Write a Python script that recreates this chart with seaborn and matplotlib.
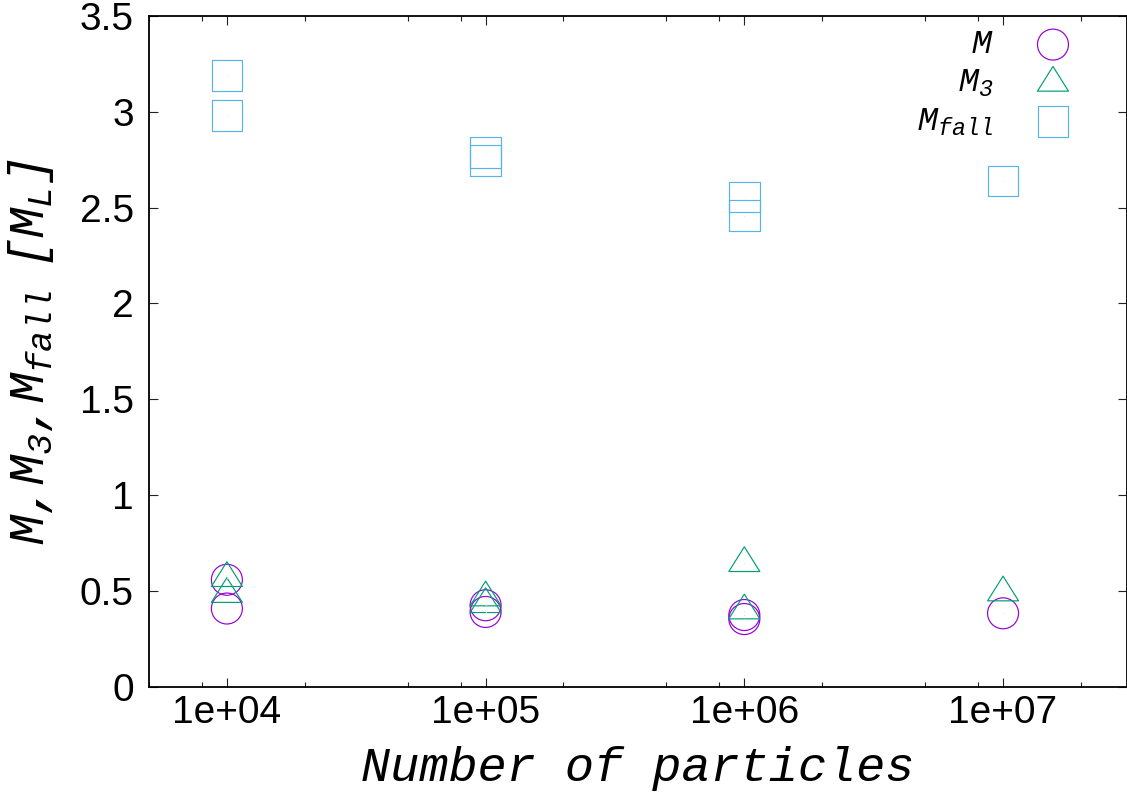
import numpy as np
import pandas as pd
import matplotlib
matplotlib.use("Agg")
import matplotlib.pyplot as plt
from matplotlib.path import Path
from matplotlib.ticker import LogLocator, FixedLocator, FuncFormatter, NullFormatter
import seaborn as sns

# Number of particles of each run
n_particles = [1e4, 1e4, 1e5, 1e5, 1e6, 1e6, 1e7]
# Masses in units of M_L
mass_M = [0.558, 0.408, 0.425, 0.390, 0.374, 0.353, 0.383]
mass_M3 = [0.566, 0.483, 0.465, 0.430, 0.644, 0.397, 0.491]
mass_Mfall = [3.189, 2.982, 2.787, 2.745, 2.556, 2.458, 2.638]

series_labels = [r"$M$", r"$M_3$", r"$M_{fall}$"]
y_ticks = [0, 0.5, 1, 1.5, 2, 2.5, 3, 3.5]
x_ticks = [1e4, 1e5, 1e6, 1e7]

sns.set_style("ticks")
plt.rcParams["font.family"] = ["Liberation Sans", "DejaVu Sans"]
plt.rcParams["text.color"] = "black"
plt.rcParams["axes.labelcolor"] = "black"
plt.rcParams["xtick.color"] = "black"
plt.rcParams["ytick.color"] = "black"
plt.rcParams["mathtext.fontset"] = "custom"
plt.rcParams["mathtext.rm"] = "Liberation Mono:italic"
plt.rcParams["mathtext.it"] = "Liberation Mono:italic"
plt.rcParams["mathtext.bf"] = "Liberation Mono:italic"

W, H = 1127, 795
fig = plt.figure(figsize=(W / 100, H / 100), dpi=100)
left, right, top, bottom = 149, 1126.5, 16, 686.7
ax = fig.add_axes([left / W, (H - bottom) / H, (right - left) / W, (bottom - top) / H])

# gnuplot-like triangle: data point sits at the centroid
tw, th = 31.0, 24.7
tri = Path([(0, 2 * th / 3), (-tw / 2, -th / 3), (tw / 2, -th / 3), (0, 2 * th / 3)],
           [Path.MOVETO, Path.LINETO, Path.LINETO, Path.CLOSEPOLY])

df = pd.DataFrame({"N": n_particles, "M": mass_M, "M3": mass_M3, "Mfall": mass_Mfall})

styles = [
    ("M", "o", "#9400D3", 497),
    ("M3", tri, "#009E73", 563),
    ("Mfall", "s", "#56B4E9", 484),
]
for (col, marker, color, size), lab in zip(styles, series_labels):
    sns.scatterplot(data=df, x="N", y=col, marker=marker, s=size,
                    facecolor="none", edgecolor=color, linewidth=0.85,
                    label=lab, ax=ax, zorder=3)
    sns.scatterplot(data=df, x="N", y=col, marker=".", s=2, color=color,
                    linewidth=0, legend=False, ax=ax, zorder=4)

ax.set_xscale("log")
ax.set_xlim(5e3, 3e7)
ax.set_ylim(0, 3.5)
ax.xaxis.set_major_locator(FixedLocator(x_ticks))
ax.xaxis.set_major_formatter(FuncFormatter(lambda v, p: f"{v:.0e}"))
ax.xaxis.set_minor_locator(LogLocator(base=10, subs=(2, 5, 8)))
ax.xaxis.set_minor_formatter(NullFormatter())
ax.yaxis.set_major_locator(FixedLocator(y_ticks))
ax.yaxis.set_major_formatter(FuncFormatter(lambda v, p: f"{v:g}"))

ax.tick_params(which="both", direction="in", top=True, right=True,
               labelsize=28, width=0.8, color="#222222", labelcolor="black")
ax.tick_params(which="major", length=6.5)
ax.tick_params(which="minor", length=3.5)
ax.tick_params(axis="x", which="major", pad=6)
ax.tick_params(axis="y", which="major", pad=11)
for sp in ax.spines.values():
    sp.set_visible(True)
    sp.set_linewidth(1.3)
    sp.set_color("black")

ax.set_xlabel("Number of particles", family="Liberation Mono", style="italic",
              fontsize=35, labelpad=11)
ax.set_ylabel(r"$M{,}M_3{,}M_{fall}\ \ [M_L]$", fontsize=36, labelpad=17)

leg = ax.legend(loc="upper right", bbox_to_anchor=(0.9657, 1.0), frameon=False,
                markerfirst=False, fontsize=24, handletextpad=1.0,
                labelspacing=0.22, borderaxespad=0.0, handlelength=1.6,
                scatterpoints=1)

fig.savefig("out.png", dpi=100)
